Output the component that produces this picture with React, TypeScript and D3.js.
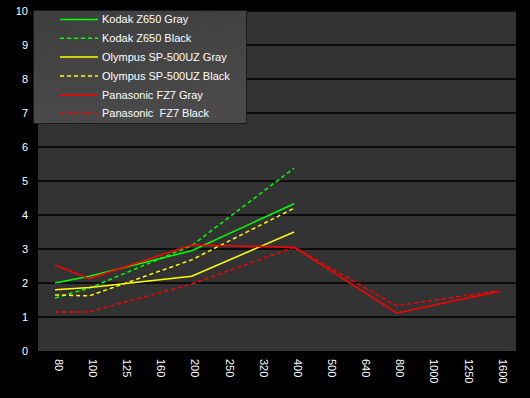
import React, { useEffect, useRef } from 'react';
import * as d3 from 'd3';

// ISO steps on the x axis
const isoLabels = ['80', '100', '125', '160', '200', '250', '320', '400', '500', '640', '800', '1000', '1250', '1600'];

// noise values per ISO (null = not measured)
const kodakGray = [2.0, 2.2, null, null, 2.95, null, null, 4.33, null, null, null, null, null, null];
const kodakBlack = [1.56, 1.85, null, null, 3.1, null, null, 5.38, null, null, null, null, null, null];
const olympusGray = [1.8, 1.87, null, null, 2.2, null, null, 3.5, null, null, null, null, null, null];
const olympusBlack = [1.65, 1.62, null, null, 2.68, null, null, 4.2, null, null, null, null, null, null];
const panasonicGray = [2.53, 2.13, null, null, 3.12, null, null, 3.05, null, null, 1.12, null, null, 1.75];
const panasonicBlack = [1.15, 1.15, null, null, 1.97, null, null, 3.05, null, null, 1.33, null, null, 1.77];

const yTicks = [0, 1, 2, 3, 4, 5, 6, 7, 8, 9, 10];

interface Series {
  label: string;
  values: (number | null)[];
  color: string;
  dashed: boolean;
}

const series: Series[] = [
  { label: 'Kodak Z650 Gray', values: kodakGray, color: '#00ff00', dashed: false },
  { label: 'Kodak Z650 Black', values: kodakBlack, color: '#00ff00', dashed: true },
  { label: 'Olympus SP-500UZ Gray', values: olympusGray, color: '#ffff00', dashed: false },
  { label: 'Olympus SP-500UZ Black', values: olympusBlack, color: '#ffff00', dashed: true },
  { label: 'Panasonic FZ7 Gray', values: panasonicGray, color: '#ff0000', dashed: false },
  { label: 'Panasonic  FZ7 Black', values: panasonicBlack, color: '#ff0000', dashed: true },
];

export default function App() {
  const svgRef = useRef<SVGSVGElement | null>(null);

  useEffect(() => {
    if (!svgRef.current) return;
    const svg = d3.select(svgRef.current);
    svg.selectAll('*').remove();

    const width = 530;
    const height = 398;
    const plot = { left: 38, right: 516, top: 11, bottom: 351 };

    svg.attr('width', width).attr('height', height)
      .style('font-family', '"Liberation Sans", Arial, sans-serif');

    svg.append('rect').attr('width', width).attr('height', height).attr('fill', '#000');

    const x = d3.scaleBand<string>().domain(isoLabels).range([plot.left, plot.right]);
    const cx = (c: string) => (x(c) as number) + x.bandwidth() / 2;
    const y = d3.scaleLinear().domain([0, 10]).range([plot.bottom, plot.top]);

    // plot background
    svg.append('rect')
      .attr('x', plot.left).attr('y', plot.top)
      .attr('width', plot.right - plot.left).attr('height', plot.bottom - plot.top)
      .attr('fill', '#333333');

    // gridlines
    svg.append('g').selectAll('line').data(yTicks.slice(1)).enter().append('line')
      .attr('x1', plot.left).attr('x2', plot.right)
      .attr('y1', d => y(d)).attr('y2', d => y(d))
      .attr('stroke', '#000').attr('stroke-width', 1.5);

    // y labels
    svg.append('g').selectAll('text').data(yTicks).enter().append('text')
      .attr('x', 28).attr('y', d => y(d)).attr('dy', '0.35em')
      .attr('text-anchor', 'end').attr('fill', '#fff').attr('font-size', 11)
      .text(d => d);

    // x labels, rotated
    svg.append('g').selectAll('text').data(isoLabels).enter().append('text')
      .attr('transform', d => `translate(${cx(d) - 4},359) rotate(90)`)
      .attr('dy', '-0.35em')
      .attr('fill', '#fff').attr('font-size', 11)
      .text(d => d);

    // lines
    series.forEach(s => {
      const pts = isoLabels
        .map((c, i) => ({ c, v: s.values[i] }))
        .filter(p => p.v !== null) as { c: string; v: number }[];
      svg.append('path')
        .datum(pts)
        .attr('fill', 'none')
        .attr('stroke', s.color)
        .attr('stroke-width', 1.5)
        .attr('stroke-dasharray', s.dashed ? '4,3' : null)
        .attr('d', d3.line<{ c: string; v: number }>().x(d => cx(d.c)).y(d => y(d.v)));
    });

    // legend
    const defs = svg.append('defs');
    const grad = defs.append('linearGradient').attr('id', 'lg')
      .attr('x1', 0).attr('y1', 0).attr('x2', 0.3).attr('y2', 1);
    grad.append('stop').attr('offset', '0%').attr('stop-color', '#3e3e3e');
    grad.append('stop').attr('offset', '100%').attr('stop-color', '#4a4a4a');

    const legend = svg.append('g').attr('transform', 'translate(33,10)');
    legend.append('rect')
      .attr('x', 0.5).attr('y', 0.5).attr('width', 213).attr('height', 113)
      .attr('fill', 'url(#lg)').attr('stroke', '#1a1a1a');

    series.forEach((s, i) => {
      const row = legend.append('g').attr('transform', `translate(0,${9.5 + i * 18.8})`);
      row.append('line')
        .attr('x1', 27).attr('x2', 65).attr('y1', 0).attr('y2', 0)
        .attr('stroke', s.color).attr('stroke-width', 1.5)
        .attr('stroke-dasharray', s.dashed ? '4,3' : null);
      row.append('text')
        .attr('x', 69).attr('y', 0).attr('dy', '0.35em')
        .attr('fill', '#fff').attr('font-size', 11)
        .style('white-space', 'pre')
        .text(s.label);
    });
  }, []);

  return (
    <div style={{ position: 'fixed', left: 0, top: 0, background: '#000' }}>
      <svg ref={svgRef} style={{ display: 'block' }}></svg>
    </div>
  );
}
